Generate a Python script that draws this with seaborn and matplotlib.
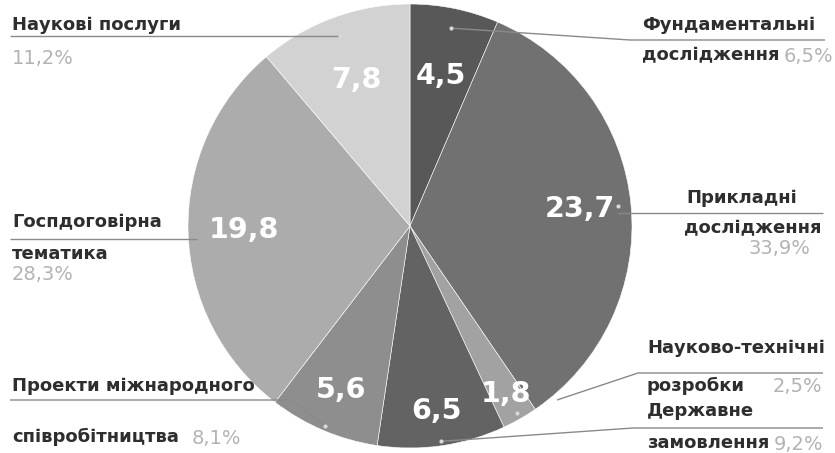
import numpy as np
import matplotlib
matplotlib.use("Agg")
import matplotlib.pyplot as plt
import seaborn as sns

# ---- data ----
categories = ["Фундаментальні дослідження", "Прикладні дослідження",
              "Науково-технічні розробки", "Державне замовлення",
              "Проекти міжнародного співробітництва", "Госпдоговірна тематика",
              "Наукові послуги"]
values = [4.5, 23.7, 1.8, 6.5, 5.6, 19.8, 7.8]
value_labels = ["4,5", "23,7", "1,8", "6,5", "5,6", "19,8", "7,8"]
percent_labels = ["6,5%", "33,9%", "2,5%", "9,2%", "8,1%", "28,3%", "11,2%"]

# ---- style ----
colors = ["#585858", "#717171", "#a2a2a2", "#636363", "#8e8e8e", "#acacac", "#d2d2d2"]
sns.set_theme(style="white")
plt.rcParams['font.family'] = ['DejaVu Sans']

W, H = 835, 453
fig = plt.figure(figsize=(W / 100, H / 100), dpi=100)
ax = fig.add_axes([0, 0, 1, 1])
cx, cy, R = 410, H - 226, 222

wedges, _ = ax.pie(values, colors=colors, startangle=90, counterclock=False,
                   center=(cx, cy), radius=R,
                   wedgeprops=dict(edgecolor="white", linewidth=0.4))
ax.set_xlim(0, W)
ax.set_ylim(0, H)
ax.set_aspect("equal")
ax.axis("off")

def Y(y):
    return H - y

# value labels inside slices (radial fractions are layout)
val_r = [0.69, 0.77, 0.87, 0.84, 0.80, 0.75, 0.70]
dot_r = [0.91, 0.94, 0.97, 0.98, 0.98, 0.96, 0.91]
for i, w in enumerate(wedges):
    ang = np.deg2rad((w.theta1 + w.theta2) / 2)
    x = cx + R * val_r[i] * np.cos(ang)
    y = cy + R * val_r[i] * np.sin(ang)
    ax.text(x, y, value_labels[i], color="white", fontsize=20.5, fontweight="bold",
            ha="center", va="center")

def dot(i):
    w = wedges[i]
    ang = np.deg2rad((w.theta1 + w.theta2) / 2)
    return cx + R * dot_r[i] * np.cos(ang), cy + R * dot_r[i] * np.sin(ang)

line_kw = dict(color="#8a8a8a", lw=1.0, solid_capstyle="butt")
lab_kw = dict(color="#2e2e2e", fontsize=13, fontweight="bold", va="center")
pct_kw = dict(color="#b3b3b3", fontsize=14, va="center")

# 0 Фундаментальні
dx, dy = dot(0)
ax.plot([dx, 630, 825], [dy, Y(40), Y(40)], **line_kw)
ax.text(642, Y(25), "Фундаментальні", ha="left", **lab_kw)
ax.text(642, Y(55), "дослідження", ha="left", **lab_kw)
ax.text(833, Y(56), percent_labels[0], ha="right", **pct_kw)

# 1 Прикладні
dx, dy = dot(1)
ax.plot([dx, 823], [Y(213), Y(213)], **line_kw)
ax.text(686, Y(198), "Прикладні", ha="left", **lab_kw)
ax.text(684, Y(228), "дослідження", ha="left", **lab_kw)
ax.text(810, Y(249), percent_labels[1], ha="right", **pct_kw)

# 2 Науково-технічні
ax.plot([557, 638, 823], [Y(400), Y(373), Y(373)], **line_kw)
ax.text(647, Y(348), "Науково-технічні", ha="left", **lab_kw)
ax.text(647, Y(386), "розробки", ha="left", **lab_kw)
ax.text(822, Y(386), percent_labels[2], ha="right", **pct_kw)

# 3 Державне
dx, dy = dot(3)
ax.plot([dx, 633, 823], [dy, Y(428), Y(428)], **line_kw)
ax.text(647, Y(411), "Державне", ha="left", **lab_kw)
ax.text(647, Y(443), "замовлення", ha="left", **lab_kw)
ax.text(823, Y(444), percent_labels[3], ha="right", **pct_kw)

# 4 Проекти
dx, dy = dot(4)
ax.plot([10, 292, dx], [Y(400), Y(400), dy], **line_kw)
ax.text(12, Y(386), "Проекти міжнародного", ha="left", **lab_kw)
ax.text(12, Y(437), "співробітництва", ha="left", **lab_kw)
ax.text(192, Y(438), percent_labels[4], ha="left", **pct_kw)

# 5 Госпдоговірна
ax.plot([10, 197], [Y(239), Y(239)], **line_kw)
ax.text(12, Y(222), "Госпдоговірна", ha="left", **lab_kw)
ax.text(12, Y(254), "тематика", ha="left", **lab_kw)
ax.text(12, Y(274), percent_labels[5], ha="left", **pct_kw)

# 6 Наукові послуги
dx, dy = dot(6)
ax.plot([10, dx], [dy, dy], **line_kw)
ax.text(12, Y(25), "Наукові послуги", ha="left", **lab_kw)
ax.text(12, Y(58), percent_labels[6], ha="left", **pct_kw)

# dots
for i in [0, 1, 2, 3, 4, 6]:
    dx, dy = dot(i)
    ax.plot(dx, dy, "o", ms=3, color="#d8d8d8", mec="none")

fig.savefig("out.png", dpi=100, facecolor="white")
